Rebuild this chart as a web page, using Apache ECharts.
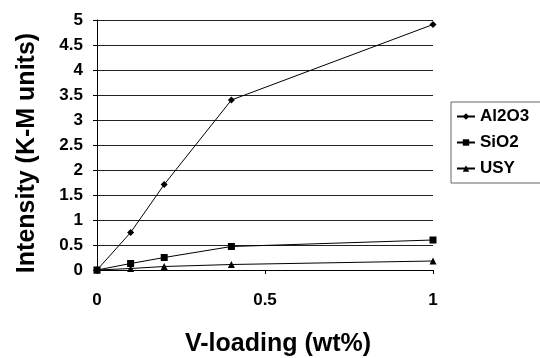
<!DOCTYPE html>
<html>
<head>
<meta charset="utf-8">
<script src="https://cdn.jsdelivr.net/npm/echarts@6/dist/echarts.min.js"></script>
<style>
  html, body { margin: 0; padding: 0; background: #fff; }
  #chart { width: 540px; height: 358px; }
</style>
</head>
<body>
<div id="chart"></div>
<script>
// V-loading (wt%)
const loadings = [0, 0.1, 0.2, 0.4, 1];
// Intensity (K-M units)
const al2o3 = [0, 0.75, 1.71, 3.4, 4.91];
const sio2 = [0, 0.13, 0.25, 0.47, 0.6];
const usy = [0, 0.03, 0.07, 0.11, 0.18];

const font = "Liberation Sans, Arial, sans-serif";

function pairs(values) {
  return loadings.map((x, i) => [x, values[i]]);
}

function lineSeries(name, values, symbol, size) {
  return {
    name,
    type: "line",
    data: pairs(values),
    symbol,
    symbolSize: size,
    showSymbol: true,
    animation: false,
    lineStyle: { color: "#000", width: 1 },
    itemStyle: { color: "#000" },
  };
}

const chart = echarts.init(document.getElementById("chart"));
chart.setOption({
  backgroundColor: "#fff",
  grid: {
    left: 97,
    right: 107,
    top: 20,
    bottom: 88,
    outerBoundsMode: "none",
  },
  legend: {
    orient: "vertical",
    left: 451,
    top: 102,
    width: 100,
    padding: [6, 30, 6, 5],
    itemGap: 9,
    itemWidth: 18,
    itemHeight: 8,
    borderColor: "#666",
    borderWidth: 1,
    textStyle: { fontFamily: font, fontWeight: "bold", fontSize: 17, color: "#000" },
    data: ["Al2O3", "SiO2", "USY"],
  },
  xAxis: {
    type: "value",
    min: 0,
    max: 1,
    interval: 0.5,
    name: "V-loading (wt%)",
    nameLocation: "middle",
    nameGap: 62,
    nameTextStyle: {
      fontFamily: font,
      fontWeight: "bold",
      fontSize: 25,
      color: "#000",
      padding: [0, 0, 0, 26],
    },
    axisLine: { show: true, lineStyle: { color: "#000", width: 1 } },
    axisTick: { show: true, length: 4, lineStyle: { color: "#000" } },
    axisLabel: {
      fontFamily: font,
      fontWeight: "bold",
      fontSize: 17,
      color: "#000",
      margin: 22,
    },
    splitLine: { show: false },
  },
  yAxis: {
    type: "value",
    min: 0,
    max: 5,
    interval: 0.5,
    name: "Intensity (K-M units)",
    nameLocation: "middle",
    nameGap: 57,
    nameTextStyle: {
      fontFamily: font,
      fontWeight: "bold",
      fontSize: 25,
      color: "#000",
      padding: [0, 16, 0, 0],
    },
    axisLine: { show: true, lineStyle: { color: "#000", width: 1 } },
    axisTick: { show: true, length: 4, lineStyle: { color: "#000" } },
    axisLabel: {
      fontFamily: font,
      fontWeight: "bold",
      fontSize: 17,
      color: "#000",
      margin: 14,
    },
    splitLine: { show: true, lineStyle: { color: "#222", width: 1 } },
  },
  series: [
    lineSeries("Al2O3", al2o3, "diamond", 7),
    lineSeries("SiO2", sio2, "rect", 7),
    lineSeries("USY", usy, "triangle", 7),
  ],
});
</script>
</body>
</html>
